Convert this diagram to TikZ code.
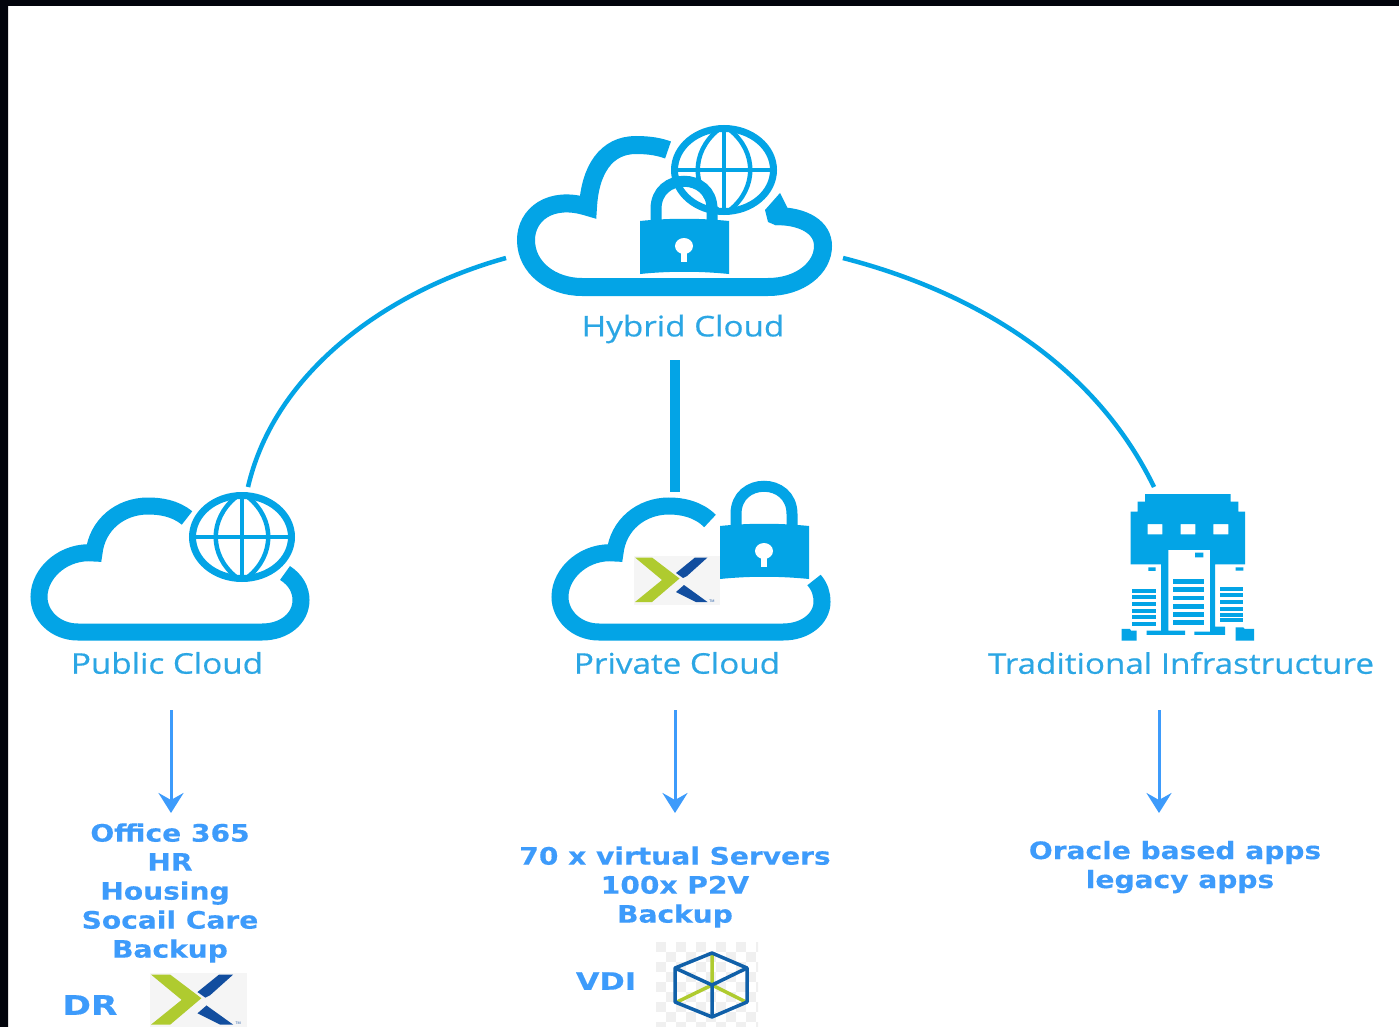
\documentclass[tikz,border=0pt]{standalone}
\usepackage{fontspec}
\setmainfont{Open Sans}
\newfontfamily\cloudfont[FakeStretch=1.165,FakeBold=0.5]{Open Sans}
\newfontfamily\boldlabel[FakeStretch=1.17,FakeBold=0.3]{DejaVu Sans Bold}
\newfontfamily\widelabel[FakeStretch=1.27,FakeBold=0.3]{DejaVu Sans Bold}
\usetikzlibrary{arrows.meta}
\definecolor{cloudblue}{HTML}{03A4E6}
\definecolor{labelblue}{HTML}{2BA6E4}
\definecolor{arrowblue}{HTML}{3D9BFB}
\definecolor{nxgreen}{HTML}{AFCB2F}
\definecolor{nxblue}{HTML}{124E9F}
\definecolor{framedark}{HTML}{02040C}
\tikzset{
  cloudline/.style={draw=cloudblue,line width=17pt,line cap=butt,line join=miter,miter limit=4},
  globering/.style={draw=cloudblue,line width=7pt,fill=white},
  globeline/.style={draw=cloudblue,line width=4.5pt},
  cloudlabel/.style={text=labelblue,font=\cloudfont\fontsize{28.5}{30}\selectfont,inner sep=0pt},
  infolabel/.style={text=arrowblue,font=\boldlabel\fontsize{24}{29}\selectfont,align=center,inner sep=0pt},
  arc link/.style={draw=cloudblue,line width=4.5pt},
  bar link/.style={draw=cloudblue,line width=10pt},
  down arrow/.style={draw=arrowblue,line width=3pt,-{Stealth[length=20pt,width=25pt,inset=7pt]}},
  globepic/.pic={
    \draw[globering] (0,0) ellipse [x radius=49.5,y radius=41.5];
    \draw[globeline] (-50,0) -- (50,0) (0,-42) -- (0,42);
    \draw[globeline] (-6,-40) .. controls (-33,-18) and (-33,18) .. (-6,40);
    \draw[globeline] (6,-40) .. controls (33,-18) and (33,18) .. (6,40);
  },
  lockpic/.pic={
    \draw[draw=cloudblue,line width=11pt] (-28,-24) -- (-28,-38) .. controls (-28,-75) and (28,-75) .. (28,-38) -- (28,-24);
    \fill[cloudblue] (-44,-26) .. controls (-15,-29) and (15,-29) .. (45,-26) -- (45,27) .. controls (15,24) and (-15,24) .. (-44,27) -- cycle;
    \fill[white] (0,-1) ellipse [x radius=9,y radius=8];
    \fill[white] (-3,3) -- (3,3) -- (3,15) -- (-3,15) -- cycle;
  },
  nxpic/.pic={
    \fill[black!4] (0,0) rectangle (86,49);
    \fill[nxgreen] (1,1.5) -- (18,1.5) -- (45.5,22.5) -- (18,46) -- (1,46) -- (28,24) -- cycle;
    \fill[nxblue] (42,17) -- (61,1.5) -- (73.5,1.5) -- (53,20) -- (49,22) -- cycle;
    \fill[nxblue] (42,36) -- (50,29) -- (73.5,46) -- (62,46) -- cycle;
    \node[text=nxblue,font=\fontsize{3.5}{4}\selectfont,inner sep=0pt] at (78,45) {TM};
  },
  xboxpic/.pic={
    \begin{scope}
      \clip (656,942) rectangle (758,1027);
      \foreach \i in {0,...,10}{\foreach \j in {0,...,9}{
        \pgfmathparse{int(mod(\i+\j,2))}
        \ifnum\pgfmathresult=0 \fill[black!6] (656+\i*10,942+\j*10) rectangle ++(10,10);\fi
      }}
    \end{scope}
    \draw[nxgreen,line width=3.5pt] (712,955) -- (712,985) (712,985) -- (677,1002) (712,985) -- (746,1002);
    \draw[nxblue!90!cyan,line width=3.5pt,line join=round] (712,953) -- (747,968) -- (747,1002) -- (712,1017) -- (675,1002) -- (675,968) -- cycle;
    \draw[nxblue!90!cyan,line width=3.5pt,line join=round] (675,968) -- (712,985) -- (747,968) (712,985) -- (712,1017);
  },
  serverpic/.pic={
    \fill[cloudblue,even odd rule]
      (135,42) -- (392,42) -- (392,65) -- (415,65) -- (415,95) -- (435,95) -- (435,253) -- (345,253) -- (345,440) -- (375,440) -- (375,465) -- (283,465) -- (283,455) -- (330,455) -- (330,210) -- (205,210) -- (205,452) -- (255,452) -- (255,465) -- (140,465) -- (140,452) -- (183,452) -- (183,253) -- (92,253) -- (92,95) -- (113,95) -- (113,65) -- (135,65) -- cycle
      (143,132) rectangle (187,163) (242,132) rectangle (286,163) (340,132) rectangle (385,163);
    \fill[cloudblue] (285,218) rectangle (310,232) (145,262) rectangle (167,273) (407,262) rectangle (430,272);
    \foreach \y in {298,322,347,372,397,421} \fill[cloudblue] (220,\y) rectangle (312,\y+14);
    \foreach \y in {326,346,366,386,405,425} \fill[cloudblue] (97,\y) rectangle (167,\y+12);
    \foreach \y in {320,340,360,380,398,415} \fill[cloudblue] (360,\y) rectangle (430,\y+12);
    \fill[cloudblue] (65,447) -- (90,447) -- (93,452) -- (110,452) -- (110,482) -- (65,482) -- cycle;
    \fill[cloudblue] (407,442) -- (430,442) -- (434,447) -- (462,447) -- (462,482) -- (407,482) -- cycle;
  }
}
\begin{document}
\begin{tikzpicture}[x=1pt,y=-1pt]
\useasboundingbox (0,0) rectangle (1399,1027);
\fill[white] (0,0) rectangle (1399,1027);
\fill[framedark] (0,0) rectangle (1399,6) (0,0) rectangle (8,1027);

% hybrid cloud icon
\draw[cloudline,line width=18pt] (668,150) .. controls (660,147) and (650,145) .. (636,145) .. controls (606,145) and (590,170) .. (588,207)
   .. controls (550,195) and (526,215) .. (526,240) .. controls (526,268) and (552,287) .. (582,287) -- (768,287) .. controls (800,287) and (823,268) .. (823,246) .. controls (823,228) and (805,216) .. (775,216);
\fill[cloudblue] (765,210) -- (780,193) -- (787,207) -- (795,225) -- (775,225) -- (768,222) -- cycle;
\pic at (724,170) {globepic};
\pic at (684,247) {lockpic};
% public cloud icon
\draw[cloudline] (187,518) .. controls (175,508) and (160,506) .. (148,506) .. controls (120,506) and (97,525) .. (94,553)
   .. controls (65,550) and (39,572) .. (39,597) .. controls (39,615) and (55,632) .. (78,632) -- (262,632) .. controls (285,632) and (301,618) .. (301,600) .. controls (301,590) and (296,580) .. (285,573);
\pic at (242,537) {globepic};
% private cloud icon
\draw[cloudline] (710,521) .. controls (698,509) and (682,506) .. (669,506) .. controls (641,506) and (618,525) .. (615,553)
   .. controls (586,550) and (560,572) .. (560,597) .. controls (560,615) and (576,632) .. (599,632) -- (783,632) .. controls (806,632) and (822,618) .. (822,602) .. controls (822,594) and (820,587) .. (814,580);
\pic at (764,552) {lockpic};
\pic at (634,556) {nxpic};
% traditional infrastructure icon
\begin{scope}[shift={(1100,480)},x=0.3333pt,y=-0.3333pt]
  \pic {serverpic};
\end{scope}

% connector ends
\coordinate (hybridL) at (506,258);
\coordinate (hybridR) at (843,258);
\coordinate (hybridB) at (675,360);
\coordinate (publicT) at (248,487);
\coordinate (privateT) at (675,492);
\coordinate (tradT) at (1154,487);
\coordinate (pubA) at (171,710);
\coordinate (pubB) at (171,813);
\coordinate (priA) at (675,710);
\coordinate (priB) at (675,813);
\coordinate (traA) at (1159,710);
\coordinate (traB) at (1159,813);

\draw[arc link] (hybridL) .. controls (390,290) and (275,370) .. (publicT);
\draw[arc link] (hybridR) .. controls (960,288) and (1090,355) .. (tradT);
\draw[bar link] (hybridB) -- (privateT);
\draw[down arrow] (pubA) -- (pubB);
\draw[down arrow] (priA) -- (priB);
\draw[down arrow] (traA) -- (traB);

\node[cloudlabel] (hybridlabel) at (683,329) {Hybrid Cloud};
\node[cloudlabel] (publiclabel) at (167,663) {Public Cloud};
\node[cloudlabel] (privatelabel) at (677,663) {Private Cloud};
\node[cloudlabel] (tradlabel) at (1181,663) {Traditional Infrastructure};

\node[infolabel] (publicinfo) at (170,893) {Office 365\\HR\\Housing\kern10pt\\Socail Care\\Backup};
\node[infolabel] (privateinfo) at (675,887) {70 x virtual Servers\\100x P2V\\Backup};
\node[infolabel] (tradinfo) at (1175,867) {Oracle based apps\\\kern10pt legacy apps};
\node[infolabel,font=\widelabel\fontsize{27}{29}\selectfont] (drlabel) at (90,1005) {DR};
\node[infolabel,font=\widelabel\fontsize{24}{29}\selectfont] (vdilabel) at (606,981) {VDI};

\begin{scope}[shift={(150,973)},x=1.13pt,y=-1.12pt]
  \pic {nxpic};
\end{scope}
\pic {xboxpic};
\end{tikzpicture}
\end{document}
